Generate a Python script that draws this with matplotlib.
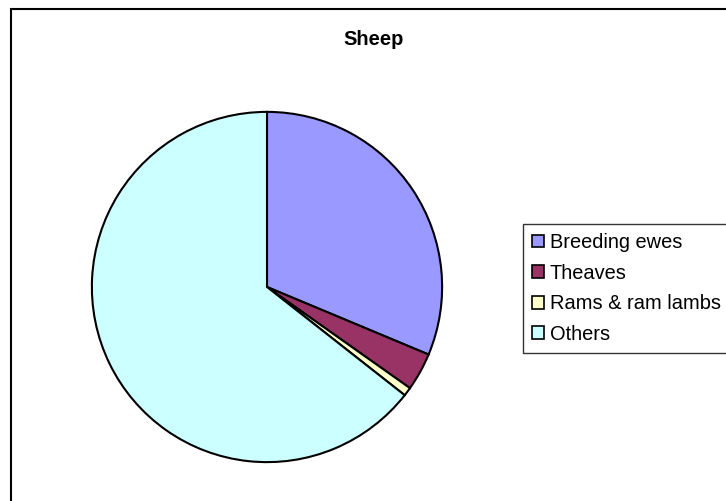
import matplotlib.pyplot as plt
from matplotlib.patches import Rectangle, Patch

plt.rcParams['font.family'] = ['Liberation Sans', 'DejaVu Sans']

labels = ["Breeding ewes", "Theaves", "Rams & ram lambs", "Others"]
values = [31.3, 3.5, 0.8, 64.4]
colors = ["#9999FF", "#993366", "#FFFFCC", "#CCFFFF"]

W, H = 726, 501
fig = plt.figure(figsize=(W / 100, H / 100), dpi=100)

# chart-area border (runs off the right and bottom edges)
fig.patches.append(Rectangle((11 / W, -0.1), 1.2, 1.1 - 9 / H, transform=fig.transFigure,
                             fill=False, edgecolor="black", linewidth=1.5))

# pie: centre ~ (267, 287), radius ~176 px
r = 176
ax = fig.add_axes([(267 - r) / W, (H - 287 - r) / H, 2 * r / W, 2 * r / H])
ax.pie(values, colors=colors, startangle=90, counterclock=False,
       wedgeprops=dict(edgecolor="black", linewidth=1.5))
ax.set_xlim(-1.005, 1.005)
ax.set_ylim(-1.005, 1.005)
ax.set_aspect("auto")
ax.axis("off")

fig.text(374 / W, 1 - 45 / H, "Sheep", ha="center", va="baseline",
         fontsize=14.5, fontweight="bold")

handles = [Patch(facecolor=c, edgecolor="black", linewidth=1.2) for c in colors]
leg = fig.legend(handles, labels, loc="upper left", bbox_to_anchor=(523 / W, 1 - 224 / H),
                 fontsize=14.4, frameon=True, fancybox=False, handlelength=0.6,
                 handleheight=0.6, handletextpad=0.3, borderpad=0.45,
                 labelspacing=0.58, borderaxespad=0)
leg.get_frame().set_edgecolor("black")
leg.get_frame().set_linewidth(1.0)

fig.savefig("out.png", dpi=100)
